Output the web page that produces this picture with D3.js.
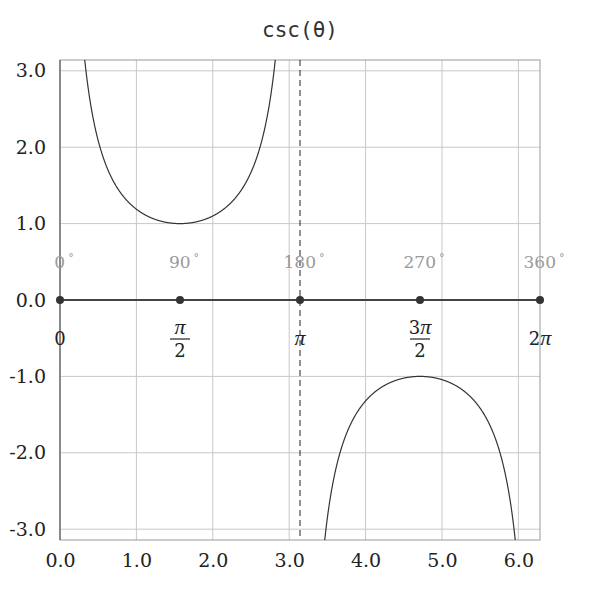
<!DOCTYPE html>
<html>
<head>
<meta charset="UTF-8">
<script src="https://cdn.jsdelivr.net/npm/d3@7"></script>
<style>body{margin:0;background:#fff}</style>
</head>
<body>
<svg width="600" height="600"></svg>
<script>
var xTicks = [0, 1, 2, 3, 4, 5, 6]
var yTicks = [-3, -2, -1, 0, 1, 2, 3]
var markAngles = [0, Math.PI / 2, Math.PI, 3 * Math.PI / 2, 2 * Math.PI]
var degLabels = ['0', '90', '180', '270', '360']
var radLabels = [['0'], ['π', '2'], ['π'], ['3π', '2'], ['2π']]
var thetas = d3.range(0, 2 * Math.PI + 0.0005, 0.002)

var svg = d3.select('svg')
var x = d3.scaleLinear().domain([0, 2 * Math.PI]).range([60, 540])
var y = d3.scaleLinear().domain([-Math.PI, Math.PI]).range([540, 60])
var serif = 'DejaVu Serif'
var fmt = d => d.toFixed(1)

svg.append('text').attr('x', 300).attr('y', 37).attr('text-anchor', 'middle')
  .attr('font-family', 'DejaVu Sans Mono').attr('font-size', 21).attr('fill', '#333').text('csc(θ)')

var grid = svg.append('g').attr('stroke', '#c8c8c8').attr('stroke-width', 1)
xTicks.forEach(t => grid.append('line').attr('x1', x(t)).attr('x2', x(t)).attr('y1', 60).attr('y2', 540))
yTicks.forEach(t => grid.append('line').attr('y1', y(t)).attr('y2', y(t)).attr('x1', 60).attr('x2', 540))
svg.append('rect').attr('x', 60).attr('y', 60).attr('width', 480).attr('height', 480)
  .attr('fill', 'none').attr('stroke', '#999')

svg.append('line').attr('x1', x(Math.PI)).attr('x2', x(Math.PI)).attr('y1', 60).attr('y2', 540)
  .attr('stroke', '#222').attr('stroke-dasharray', '6,4')
svg.append('line').attr('x1', x(0)).attr('x2', x(0)).attr('y1', 60).attr('y2', 540).attr('stroke', '#555')

svg.append('g').attr('transform', 'translate(0,540)')
  .call(d3.axisBottom(x).tickValues(xTicks).tickFormat(fmt).tickSize(0).tickPadding(14))
  .call(g => { g.select('.domain').remove(); g.selectAll('text').attr('font-family', serif).attr('font-size', 19).attr('fill', '#222') })
svg.append('g').attr('transform', 'translate(60,0)')
  .call(d3.axisLeft(y).tickValues(yTicks).tickFormat(fmt).tickSize(0).tickPadding(14))
  .call(g => { g.select('.domain').remove(); g.selectAll('text').attr('font-family', serif).attr('font-size', 19).attr('fill', '#222') })

svg.append('defs').append('clipPath').attr('id', 'c').append('rect')
  .attr('x', 60).attr('y', 60).attr('width', 480).attr('height', 480)
var line = d3.line().defined(d => Math.abs(Math.sin(d)) > 0.25).x(d => x(d)).y(d => y(1 / Math.sin(d)))
svg.append('path').datum(thetas).attr('clip-path', 'url(#c)').attr('d', line)
  .attr('fill', 'none').attr('stroke', '#333').attr('stroke-width', 1.2)

svg.append('line').attr('x1', x(0)).attr('x2', x(2 * Math.PI)).attr('y1', y(0)).attr('y2', y(0))
  .attr('stroke', '#444').attr('stroke-width', 2)
svg.selectAll('circle').data(markAngles).enter().append('circle')
  .attr('cx', d => x(d)).attr('cy', y(0)).attr('r', 4).attr('fill', '#333')

var deg = svg.selectAll('.deg').data(markAngles).enter().append('text')
  .attr('x', d => x(d) + 4).attr('y', y(0) - 32).attr('text-anchor', 'middle')
  .attr('font-family', serif).attr('font-size', 17).attr('fill', '#999')
deg.append('tspan').text((d, i) => degLabels[i])
deg.append('tspan').attr('dy', -6).attr('dx', 3).attr('font-size', 11).text('°')

function radText(t, cx, yy) {
  var el = svg.append('text').attr('x', cx).attr('y', yy).attr('text-anchor', 'middle')
    .attr('font-family', serif).attr('font-size', 18).attr('fill', '#222')
  t.split('').forEach(ch => {
    var s = el.append('tspan').text(ch)
    if (ch === 'π') s.attr('font-family', 'Liberation Serif').attr('font-style', 'italic').attr('font-size', 22)
  })
}
radLabels.forEach((l, i) => {
  var cx = x(markAngles[i])
  if (l.length === 1) {
    radText(l[0], cx, y(0) + 45)
  } else {
    radText(l[0], cx, y(0) + 34)
    svg.append('line').attr('x1', cx - 10).attr('x2', cx + 10).attr('y1', y(0) + 39).attr('y2', y(0) + 39)
      .attr('stroke', '#222').attr('stroke-width', 1.2)
    radText(l[1], cx, y(0) + 57)
  }
})
</script>
</body>
</html>
